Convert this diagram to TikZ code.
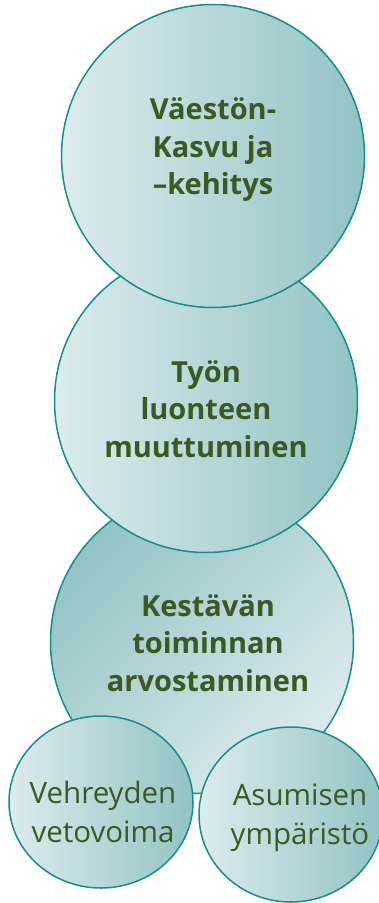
\documentclass[tikz,border=0pt]{standalone}
\usepackage{fontspec}
\setmainfont{Open Sans}
\usetikzlibrary{shapes.geometric}
\definecolor{ring}{HTML}{168C8C}
\definecolor{lite}{HTML}{DDEBEC}
\definecolor{dark}{HTML}{92C3C4}
\definecolor{txt}{HTML}{3B5A22}
\begin{document}
\begin{tikzpicture}[x=1pt,y=-1pt,
 bubble/.style={circle, draw=ring, line width=1.5pt, minimum size=303pt, inner sep=0pt},
 oval/.style={ellipse, draw=ring, line width=1.5pt, inner sep=0pt},
 hshade/.style={left color=lite, right color=dark},
 bigtext/.style={text=txt, align=center, inner sep=0pt, font=\fontsize{29}{37.5}\selectfont\bfseries},
 smalltext/.style={text=txt, align=center, inner sep=0pt, font=\fontsize{29.5}{39}\selectfont}]
\useasboundingbox (0,0) rectangle (379,903);
\node[bubble, top color=dark, bottom color=lite, shading angle=45] (c3) at (202,642) {};
\node[bubble, hshade] (c2) at (206,401) {};
\node[bubble, hshade] (c1) at (213,156) {};
\node[oval, hshade, minimum width=184pt, minimum height=172pt] (c4) at (101,802) {};
\node[oval, hshade, minimum width=184pt, minimum height=175pt] (c5) at (291,814.5) {};
\node[bigtext] (t1) at (213,150) {Väestön-\\Kasvu ja\\ –kehitys};
\node[bigtext] (t2) at (206,409) {Työn\\luonteen\\muuttuminen};
\node[bigtext] (t3) at (208,643) {Kestävän\\toiminnan\\arvostaminen};
\node[smalltext] (t4) at (103,812) {Vehreyden\\vetovoima};
\node[smalltext] (t5) at (300,818) {Asumisen\\ympäristö};
\end{tikzpicture}
\end{document}
